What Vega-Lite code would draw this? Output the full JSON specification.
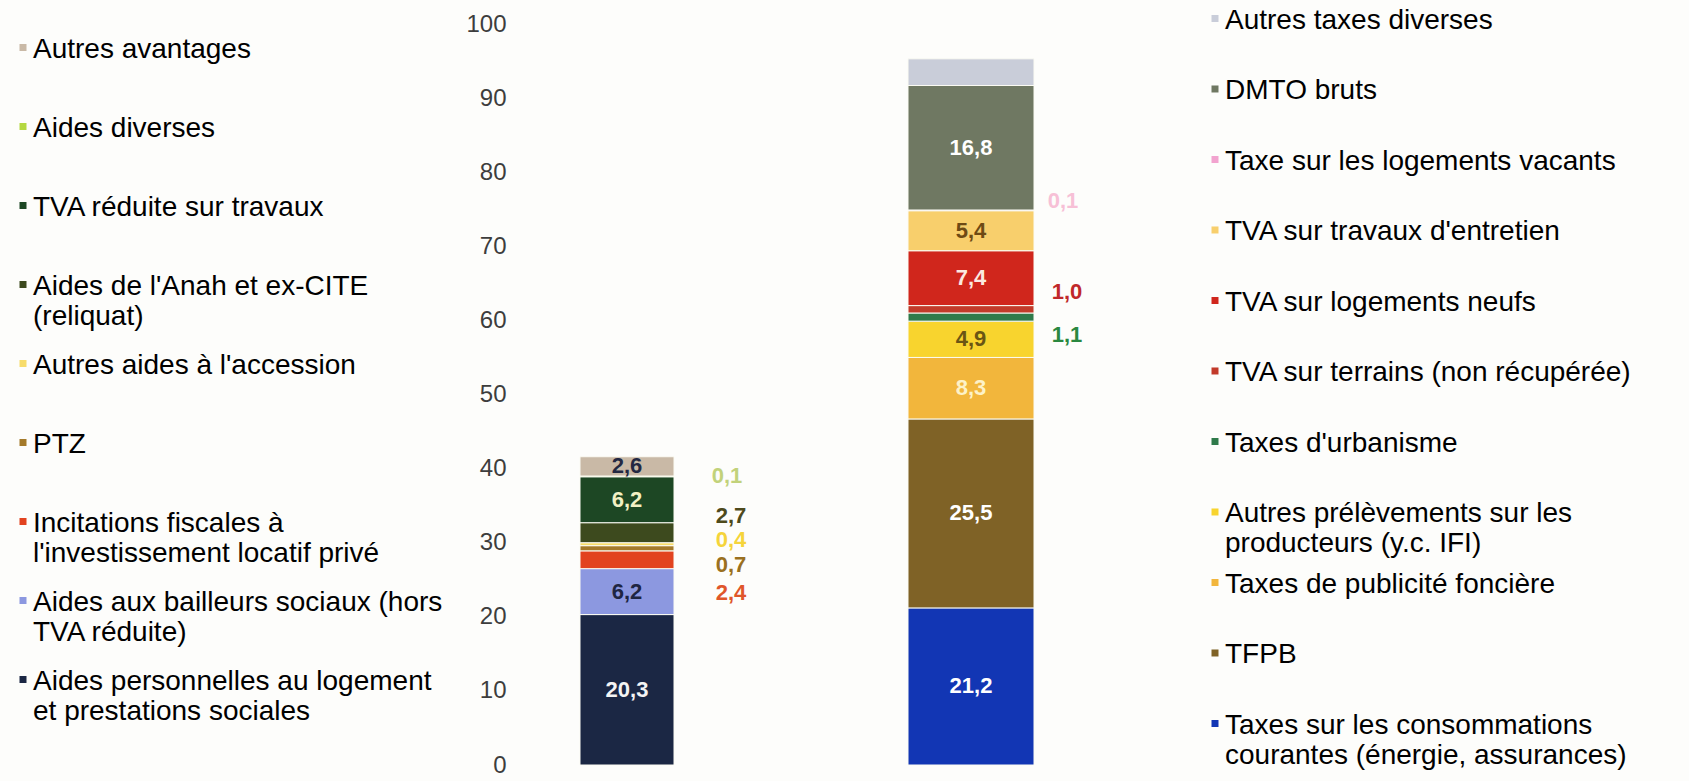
{
  "$schema": "https://vega.github.io/schema/vega-lite/v6.json",
  "autosize": {"type": "none"},
  "width": 1169,
  "height": 741,
  "padding": {"left": 520, "top": 24, "right": 0, "bottom": 16},
  "background": "#fdfdfb",
  "config": {
    "font": "Liberation Sans",
    "view": {"stroke": null},
    "axisY": {"domain": false, "ticks": false, "grid": false, "labelFontSize": 24, "labelColor": "#3d3d3d", "labelPadding": 14},
    "locale": {"number": {"decimal": ",", "thousands": " ", "grouping": [3], "currency": ["", " €"]}}
  },
  "data": {
    "values": [
      {"bar": "Avantages", "cat": "Aides personnelles au logement et prestations sociales", "value": 20.3},
      {"bar": "Avantages", "cat": "Aides aux bailleurs sociaux (hors TVA réduite)", "value": 6.2},
      {"bar": "Avantages", "cat": "Incitations fiscales à l'investissement locatif privé", "value": 2.4},
      {"bar": "Avantages", "cat": "PTZ", "value": 0.7},
      {"bar": "Avantages", "cat": "Autres aides à l'accession", "value": 0.4},
      {"bar": "Avantages", "cat": "Aides de l'Anah et ex-CITE (reliquat)", "value": 2.7},
      {"bar": "Avantages", "cat": "TVA réduite sur travaux", "value": 6.2},
      {"bar": "Avantages", "cat": "Aides diverses", "value": 0.1},
      {"bar": "Avantages", "cat": "Autres avantages", "value": 2.6},
      {"bar": "Prélèvements", "cat": "Taxes sur les consommations courantes (énergie, assurances)", "value": 21.2},
      {"bar": "Prélèvements", "cat": "TFPB", "value": 25.5},
      {"bar": "Prélèvements", "cat": "Taxes de publicité foncière", "value": 8.3},
      {"bar": "Prélèvements", "cat": "Autres prélèvements sur les producteurs (y.c. IFI)", "value": 4.9},
      {"bar": "Prélèvements", "cat": "Taxes d'urbanisme", "value": 1.1},
      {"bar": "Prélèvements", "cat": "TVA sur terrains (non récupérée)", "value": 1.0},
      {"bar": "Prélèvements", "cat": "TVA sur logements neufs", "value": 7.4},
      {"bar": "Prélèvements", "cat": "TVA sur travaux d'entretien", "value": 5.4},
      {"bar": "Prélèvements", "cat": "Taxe sur les logements vacants", "value": 0.1},
      {"bar": "Prélèvements", "cat": "DMTO bruts", "value": 16.8},
      {"bar": "Prélèvements", "cat": "Autres taxes diverses", "value": 3.6}
    ]
  },
  "transform": [
    {"stack": "value", "groupby": ["bar"], "as": ["v0", "v1"]}
  ],
  "encoding": {
    "x": {"field": "bar", "type": "nominal", "axis": null,
      "scale": {"type": "point", "domain": ["Avantages", "Prélèvements"], "range": [107, 451], "padding": 0}},
    "y": {"field": "v1", "type": "quantitative",
      "scale": {"domain": [0, 100], "nice": false, "zero": true},
      "axis": {"title": null, "values": [0, 10, 20, 30, 40, 50, 60, 70, 80, 90, 100]}}
  },
  "layer": [
    {
      "transform": [{"filter": "datum.bar === 'Avantages'"}],
      "mark": {"type": "bar", "width": 94, "stroke": "#fbfbf3", "strokeWidth": 1},
      "encoding": {
        "y2": {"field": "v0"},
        "color": {"field": "cat", "type": "nominal",
          "scale": {
            "domain": ["Autres avantages", "Aides diverses", "TVA réduite sur travaux", "Aides de l'Anah et ex-CITE (reliquat)", "Autres aides à l'accession", "PTZ", "Incitations fiscales à l'investissement locatif privé", "Aides aux bailleurs sociaux (hors TVA réduite)", "Aides personnelles au logement et prestations sociales"],
            "range": ["#c9b9a6", "#b4d840", "#1d4724", "#3d4a1e", "#f7dc6a", "#a47a2a", "#e2431f", "#8c98e0", "#1b2744"]
          },
          "legend": {
            "title": null, "orient": "none", "legendX": -511, "legendY": 19.5,
            "symbolType": "M-1,-3.86H1V-1.86H-1Z", "symbolSize": 49, "symbolStrokeWidth": 0,
            "labelFontSize": 28, "labelLimit": 600, "labelOffset": -4, "labelBaseline": "alphabetic",
            "rowPadding": 21, "gridAlign": "all", "padding": 0,
            "labelExpr": "datum.label === \"Aides de l'Anah et ex-CITE (reliquat)\" ? [\"Aides de l'Anah et ex-CITE\", \"(reliquat)\"] : datum.label === \"Incitations fiscales à l'investissement locatif privé\" ? [\"Incitations fiscales à\", \"l'investissement locatif privé\"] : datum.label === \"Aides aux bailleurs sociaux (hors TVA réduite)\" ? [\"Aides aux bailleurs sociaux (hors\", \"TVA réduite)\"] : datum.label === \"Aides personnelles au logement et prestations sociales\" ? [\"Aides personnelles au logement\", \"et prestations sociales\"] : datum.label",
            "encode": {"labels": {"update": {
              "lineHeight": {"value": 30},
              "fill": [
                {"test": "datum.value === \"Autres avantages\"", "value": "#e6e2dc"},
                {"test": "datum.value === \"Aides diverses\"", "value": "#e0eeb4"},
                {"test": "datum.value === \"TVA réduite sur travaux\"", "value": "#2e5a30"},
                {"test": "datum.value === \"Aides de l'Anah et ex-CITE (reliquat)\"", "value": "#403c36"},
                {"test": "datum.value === \"Autres aides à l'accession\"", "value": "#f3e35a"},
                {"test": "datum.value === \"PTZ\"", "value": "#9c6c36"},
                {"test": "datum.value === \"Incitations fiscales à l'investissement locatif privé\"", "value": "#c5302e"},
                {"test": "datum.value === \"Aides aux bailleurs sociaux (hors TVA réduite)\"", "value": "#e2e2e8"},
                {"value": "#3a3440"}
              ]
            }}}
          }
        }
      }
    },
    {
      "transform": [{"filter": "datum.bar === 'Prélèvements'"}],
      "mark": {"type": "bar", "width": 126, "stroke": "#fbfbf3", "strokeWidth": 1},
      "encoding": {
        "y2": {"field": "v0"},
        "color": {"field": "cat", "type": "nominal",
          "scale": {
            "domain": ["Autres taxes diverses", "DMTO bruts", "Taxe sur les logements vacants", "TVA sur travaux d'entretien", "TVA sur logements neufs", "TVA sur terrains (non récupérée)", "Taxes d'urbanisme", "Autres prélèvements sur les producteurs (y.c. IFI)", "Taxes de publicité foncière", "TFPB", "Taxes sur les consommations courantes (énergie, assurances)"],
            "range": ["#c9cdd9", "#6f7862", "#f2a3cf", "#f8cf6c", "#d0261c", "#c23a2a", "#2f7a4a", "#f8d42e", "#f2b63c", "#7f6226", "#1236b4"]
          },
          "legend": {
            "title": null, "orient": "none", "legendX": 681, "legendY": -9.5,
            "symbolType": "M-1,-3.86H1V-1.86H-1Z", "symbolSize": 49, "symbolStrokeWidth": 0,
            "labelFontSize": 28, "labelLimit": 600, "labelOffset": -4, "labelBaseline": "alphabetic",
            "rowPadding": 12.5, "gridAlign": "all", "padding": 0,
            "labelExpr": "datum.label === \"Autres prélèvements sur les producteurs (y.c. IFI)\" ? [\"Autres prélèvements sur les\", \"producteurs (y.c. IFI)\"] : datum.label === \"Taxes sur les consommations courantes (énergie, assurances)\" ? [\"Taxes sur les consommations\", \"courantes (énergie, assurances)\"] : datum.label",
            "encode": {"labels": {"update": {
              "lineHeight": {"value": 30},
              "fill": [
                {"test": "datum.value === \"Autres taxes diverses\"", "value": "#e8e8ee"},
                {"test": "datum.value === \"DMTO bruts\"", "value": "#4f5262"},
                {"test": "datum.value === \"Taxe sur les logements vacants\"", "value": "#efe4ea"},
                {"test": "datum.value === \"TVA sur travaux d'entretien\"", "value": "#f6efa0"},
                {"test": "datum.value === \"TVA sur logements neufs\"", "value": "#c8352c"},
                {"test": "datum.value === \"TVA sur terrains (non récupérée)\"", "value": "#c43a2e"},
                {"test": "datum.value === \"Taxes d'urbanisme\"", "value": "#2f5d40"},
                {"test": "datum.value === \"Autres prélèvements sur les producteurs (y.c. IFI)\"", "value": "#f5ef6a"},
                {"test": "datum.value === \"Taxes de publicité foncière\"", "value": "#f6ea8c"},
                {"test": "datum.value === \"TFPB\"", "value": "#8a7446"},
                {"value": "#3b6dbd"}
              ]
            }}}
          }
        }
      }
    },
    {
      "transform": [
        {"fold": ["v0", "v1"], "as": ["edge", "pos"]},
        {"aggregate": [{"op": "mean", "field": "pos", "as": "mid"}], "groupby": ["bar", "cat", "value"]},
        {"filter": {"field": "cat", "oneOf": ["Autres avantages", "TVA réduite sur travaux", "Aides aux bailleurs sociaux (hors TVA réduite)", "Aides personnelles au logement et prestations sociales", "DMTO bruts", "TVA sur travaux d'entretien", "TVA sur logements neufs", "Autres prélèvements sur les producteurs (y.c. IFI)", "Taxes de publicité foncière", "TFPB", "Taxes sur les consommations courantes (énergie, assurances)"]}}
      ],
      "mark": {"type": "text", "fontSize": 22, "fontWeight": "bold", "baseline": "middle", "align": "center"},
      "encoding": {
        "y": {"field": "mid", "type": "quantitative", "axis": {"title": null, "values": [0, 10, 20, 30, 40, 50, 60, 70, 80, 90, 100]}},
        "text": {"field": "value", "type": "quantitative", "format": ".1f"},
        "color": {"field": "cat", "type": "nominal", "legend": null,
          "scale": {
            "domain": ["Autres avantages", "TVA réduite sur travaux", "Aides aux bailleurs sociaux (hors TVA réduite)", "Aides personnelles au logement et prestations sociales", "DMTO bruts", "TVA sur travaux d'entretien", "TVA sur logements neufs", "Autres prélèvements sur les producteurs (y.c. IFI)", "Taxes de publicité foncière", "TFPB", "Taxes sur les consommations courantes (énergie, assurances)"],
            "range": ["#232842", "#f2f0c4", "#1e2542", "#f4f4f4", "#ffffff", "#6e4a14", "#fbe9e0", "#6a5514", "#fdf2c8", "#ffffff", "#ffffff"]
          }
        }
      }
    },
    {
      "transform": [
        {"fold": ["v0", "v1"], "as": ["edge", "pos"]},
        {"aggregate": [{"op": "mean", "field": "pos", "as": "mid"}], "groupby": ["bar", "cat", "value"]},
        {"filter": {"field": "cat", "equal": "Aides diverses"}}
      ],
      "mark": {"type": "text", "fontSize": 22, "fontWeight": "bold", "baseline": "middle", "align": "center", "dx": 100, "dy": 0, "color": "#c2d27a"},
      "encoding": {
        "y": {"field": "mid", "type": "quantitative", "axis": {"title": null, "values": [0, 10, 20, 30, 40, 50, 60, 70, 80, 90, 100]}},
        "text": {"field": "value", "type": "quantitative", "format": ".1f"}
      }
    },
    {
      "transform": [
        {"fold": ["v0", "v1"], "as": ["edge", "pos"]},
        {"aggregate": [{"op": "mean", "field": "pos", "as": "mid"}], "groupby": ["bar", "cat", "value"]},
        {"filter": {"field": "cat", "equal": "Aides de l'Anah et ex-CITE (reliquat)"}}
      ],
      "mark": {"type": "text", "fontSize": 22, "fontWeight": "bold", "baseline": "middle", "align": "center", "dx": 104, "dy": -17, "color": "#4e4a1c"},
      "encoding": {
        "y": {"field": "mid", "type": "quantitative", "axis": {"title": null, "values": [0, 10, 20, 30, 40, 50, 60, 70, 80, 90, 100]}},
        "text": {"field": "value", "type": "quantitative", "format": ".1f"}
      }
    },
    {
      "transform": [
        {"fold": ["v0", "v1"], "as": ["edge", "pos"]},
        {"aggregate": [{"op": "mean", "field": "pos", "as": "mid"}], "groupby": ["bar", "cat", "value"]},
        {"filter": {"field": "cat", "equal": "Autres aides à l'accession"}}
      ],
      "mark": {"type": "text", "fontSize": 22, "fontWeight": "bold", "baseline": "middle", "align": "center", "dx": 104, "dy": -4, "color": "#f5d43a"},
      "encoding": {
        "y": {"field": "mid", "type": "quantitative", "axis": {"title": null, "values": [0, 10, 20, 30, 40, 50, 60, 70, 80, 90, 100]}},
        "text": {"field": "value", "type": "quantitative", "format": ".1f"}
      }
    },
    {
      "transform": [
        {"fold": ["v0", "v1"], "as": ["edge", "pos"]},
        {"aggregate": [{"op": "mean", "field": "pos", "as": "mid"}], "groupby": ["bar", "cat", "value"]},
        {"filter": {"field": "cat", "equal": "PTZ"}}
      ],
      "mark": {"type": "text", "fontSize": 22, "fontWeight": "bold", "baseline": "middle", "align": "center", "dx": 104, "dy": 17, "color": "#9a7020"},
      "encoding": {
        "y": {"field": "mid", "type": "quantitative", "axis": {"title": null, "values": [0, 10, 20, 30, 40, 50, 60, 70, 80, 90, 100]}},
        "text": {"field": "value", "type": "quantitative", "format": ".1f"}
      }
    },
    {
      "transform": [
        {"fold": ["v0", "v1"], "as": ["edge", "pos"]},
        {"aggregate": [{"op": "mean", "field": "pos", "as": "mid"}], "groupby": ["bar", "cat", "value"]},
        {"filter": {"field": "cat", "equal": "Incitations fiscales à l'investissement locatif privé"}}
      ],
      "mark": {"type": "text", "fontSize": 22, "fontWeight": "bold", "baseline": "middle", "align": "center", "dx": 104, "dy": 33, "color": "#e0562a"},
      "encoding": {
        "y": {"field": "mid", "type": "quantitative", "axis": {"title": null, "values": [0, 10, 20, 30, 40, 50, 60, 70, 80, 90, 100]}},
        "text": {"field": "value", "type": "quantitative", "format": ".1f"}
      }
    },
    {
      "transform": [
        {"fold": ["v0", "v1"], "as": ["edge", "pos"]},
        {"aggregate": [{"op": "mean", "field": "pos", "as": "mid"}], "groupby": ["bar", "cat", "value"]},
        {"filter": {"field": "cat", "equal": "TVA sur terrains (non récupérée)"}}
      ],
      "mark": {"type": "text", "fontSize": 22, "fontWeight": "bold", "baseline": "middle", "align": "center", "dx": 96, "dy": -17, "color": "#c0282a"},
      "encoding": {
        "y": {"field": "mid", "type": "quantitative", "axis": {"title": null, "values": [0, 10, 20, 30, 40, 50, 60, 70, 80, 90, 100]}},
        "text": {"field": "value", "type": "quantitative", "format": ".1f"}
      }
    },
    {
      "transform": [
        {"fold": ["v0", "v1"], "as": ["edge", "pos"]},
        {"aggregate": [{"op": "mean", "field": "pos", "as": "mid"}], "groupby": ["bar", "cat", "value"]},
        {"filter": {"field": "cat", "equal": "Taxes d'urbanisme"}}
      ],
      "mark": {"type": "text", "fontSize": 22, "fontWeight": "bold", "baseline": "middle", "align": "center", "dx": 96, "dy": 18, "color": "#2a8840"},
      "encoding": {
        "y": {"field": "mid", "type": "quantitative", "axis": {"title": null, "values": [0, 10, 20, 30, 40, 50, 60, 70, 80, 90, 100]}},
        "text": {"field": "value", "type": "quantitative", "format": ".1f"}
      }
    },
    {
      "transform": [
        {"fold": ["v0", "v1"], "as": ["edge", "pos"]},
        {"aggregate": [{"op": "mean", "field": "pos", "as": "mid"}], "groupby": ["bar", "cat", "value"]},
        {"filter": {"field": "cat", "equal": "Taxe sur les logements vacants"}}
      ],
      "mark": {"type": "text", "fontSize": 22, "fontWeight": "bold", "baseline": "middle", "align": "center", "dx": 92, "dy": -9, "color": "#f7c0d6"},
      "encoding": {
        "y": {"field": "mid", "type": "quantitative", "axis": {"title": null, "values": [0, 10, 20, 30, 40, 50, 60, 70, 80, 90, 100]}},
        "text": {"field": "value", "type": "quantitative", "format": ".1f"}
      }
    }
  ],
  "resolve": {"scale": {"color": "independent"}, "legend": {"color": "independent"}}
}
